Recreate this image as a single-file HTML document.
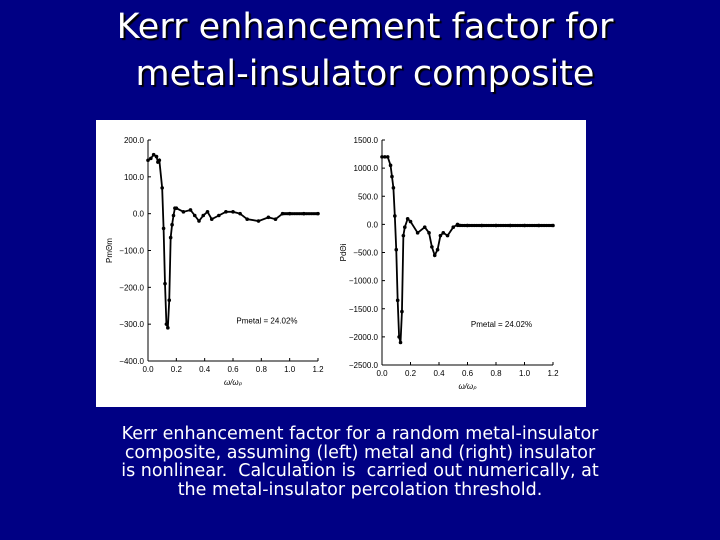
<!DOCTYPE html>
<html><head><meta charset="utf-8"><style>
body{margin:0;width:720px;height:540px;background:#000084;overflow:hidden;font-family:"Liberation Sans",sans-serif;position:relative}
#title{position:absolute;left:0;width:730px;top:4px;text-align:center;color:#fff;font-family:"DejaVu Sans",sans-serif;font-size:35px;line-height:47px;text-shadow:2px 2px 1px #000}
#fig{position:absolute;left:96px;top:120px;width:490px;height:287px;background:#fff}
#cap{position:absolute;left:40px;width:640px;top:425px;text-align:center;color:#fff;font-family:"DejaVu Sans",sans-serif;font-size:17.5px;line-height:18.5px;white-space:nowrap}
svg text{font-family:"Liberation Sans",sans-serif;font-size:8px;fill:#000}
</style></head><body>
<div id="title">Kerr enhancement factor for<br>metal-insulator composite</div>
<div id="fig"><svg id="svg" width="490" height="287"></svg></div>
<div id="cap">Kerr enhancement factor for a random metal-insulator<br>composite, assuming (left) metal and (right) insulator<br>is nonlinear.&nbsp; Calculation is&nbsp; carried out numerically, at<br>the metal-insulator percolation threshold.</div>
<script>
const xTicks=[0,0.2,0.4,0.6,0.8,1.0,1.2];
const leftYTicks=[200,100,0,-100,-200,-300,-400];
const leftX=[0,0.02,0.04,0.06,0.07,0.08,0.1,0.11,0.12,0.13,0.14,0.15,0.16,0.17,0.18,0.19,0.2,0.25,0.3,0.33,0.36,0.39,0.42,0.45,0.5,0.55,0.6,0.65,0.7,0.78,0.85,0.9,0.95,1.0,1.1,1.2];
const leftY=[145,150,160,155,140,145,70,-40,-190,-300,-310,-235,-65,-30,-5,15,15,5,10,-5,-20,-5,5,-15,-5,5,5,0,-15,-20,-10,-15,0,0,0,0];
const rightYTicks=[1500,1000,500,0,-500,-1000,-1500,-2000,-2500];
const rightX=[0,0.02,0.04,0.06,0.07,0.08,0.09,0.1,0.11,0.12,0.13,0.14,0.15,0.16,0.18,0.2,0.25,0.3,0.33,0.35,0.37,0.39,0.41,0.43,0.46,0.5,0.53,0.6,0.7,0.8,0.9,1.0,1.1,1.2];
const rightY=[1200,1200,1200,1050,850,650,150,-450,-1350,-2000,-2100,-1550,-200,-50,100,50,-150,-50,-150,-400,-550,-450,-200,-150,-200,-50,0,-20,-20,-20,-20,-20,-20,-20];
const NS='http://www.w3.org/2000/svg';
const svg=document.getElementById('svg');
function mk(t,a,p){const e=document.createElementNS(NS,t);for(const k in a)e.setAttribute(k,a[k]);(p||svg).appendChild(e);return e;}
function chart(flatStart,x0,x1,y0px,y1px,ymax,ymin,ticks,xs,ys,lab,ylab,xlab,prefix){
 const g=mk('g',{});
 
 
 const sx=v=>x0+(v-0)/1.2*(x1-x0);
 const sy=v=>y0px+(ymax-v)/(ymax-ymin)*(y1px-y0px);
 mk('line',{x1:x0,y1:y0px,x2:x0,y2:y1px,stroke:'#000','stroke-width':1},g);
 mk('line',{x1:x0,y1:y1px,x2:x1,y2:y1px,stroke:'#000','stroke-width':1},g);
 ticks.forEach(t=>{const y=sy(t);mk('line',{x1:x0,y1:y,x2:x0+3,y2:y,stroke:'#000'},g);
  const tx=mk('text',{x:x0-4,y:y+3,'text-anchor':'end'},g);tx.textContent=t.toFixed(1).replace('-','\u2212');
  
  });
 xTicks.forEach(t=>{const x=sx(t);mk('line',{x1:x,y1:y1px,x2:x,y2:y1px-3,stroke:'#000'},g);
  const tx=mk('text',{x:x,y:y1px+11,'text-anchor':'middle'},g);tx.textContent=t.toFixed(1);
  
  });
 const pts=xs.map((v,i)=>sx(v)+','+sy(ys[i])).join(' ');
 const pl=mk('polyline',{points:pts,fill:'none',stroke:'#000','stroke-width':1.8},g);
 
 
 xs.forEach((v,i)=>{const c=mk('circle',{cx:sx(v),cy:sy(ys[i]),r:1.8,fill:'#000'},g);
  
  });
 for(let v=flatStart;v<=1.2;v+=0.012){mk('circle',{cx:sx(v),cy:sy(ys[ys.length-1]),r:1.6,fill:'#000'},g);}
 const t1=mk('text',{x:(x0+x1)/2,y:y1px+24,'text-anchor':'middle','font-style':'italic'},g);t1.textContent=xlab;
 
 
 const t2=mk('text',{x:x0+(x1-x0)*0.52,y:sy(ymin+(ymax-ymin)*0.17)},g);t2.textContent=lab;
 
 
 const t3=mk('text',{x:0,y:0,transform:'translate('+(x0-36)+','+((y0px+y1px)/2)+') rotate(-90)','text-anchor':'middle'},g);t3.textContent=ylab;
 
 
}
chart(0.95,52,222,20,241,200,-400,leftYTicks,leftX,leftY,'Pmetal  =  24.02%','PmΘm','ω/ω\u209a','left');
chart(0.53,286,457,20,245,1500,-2500,rightYTicks,rightX,rightY,'Pmetal  =  24.02%','PdΘi','ω/ω\u209a','right');
</script>
</body></html>
